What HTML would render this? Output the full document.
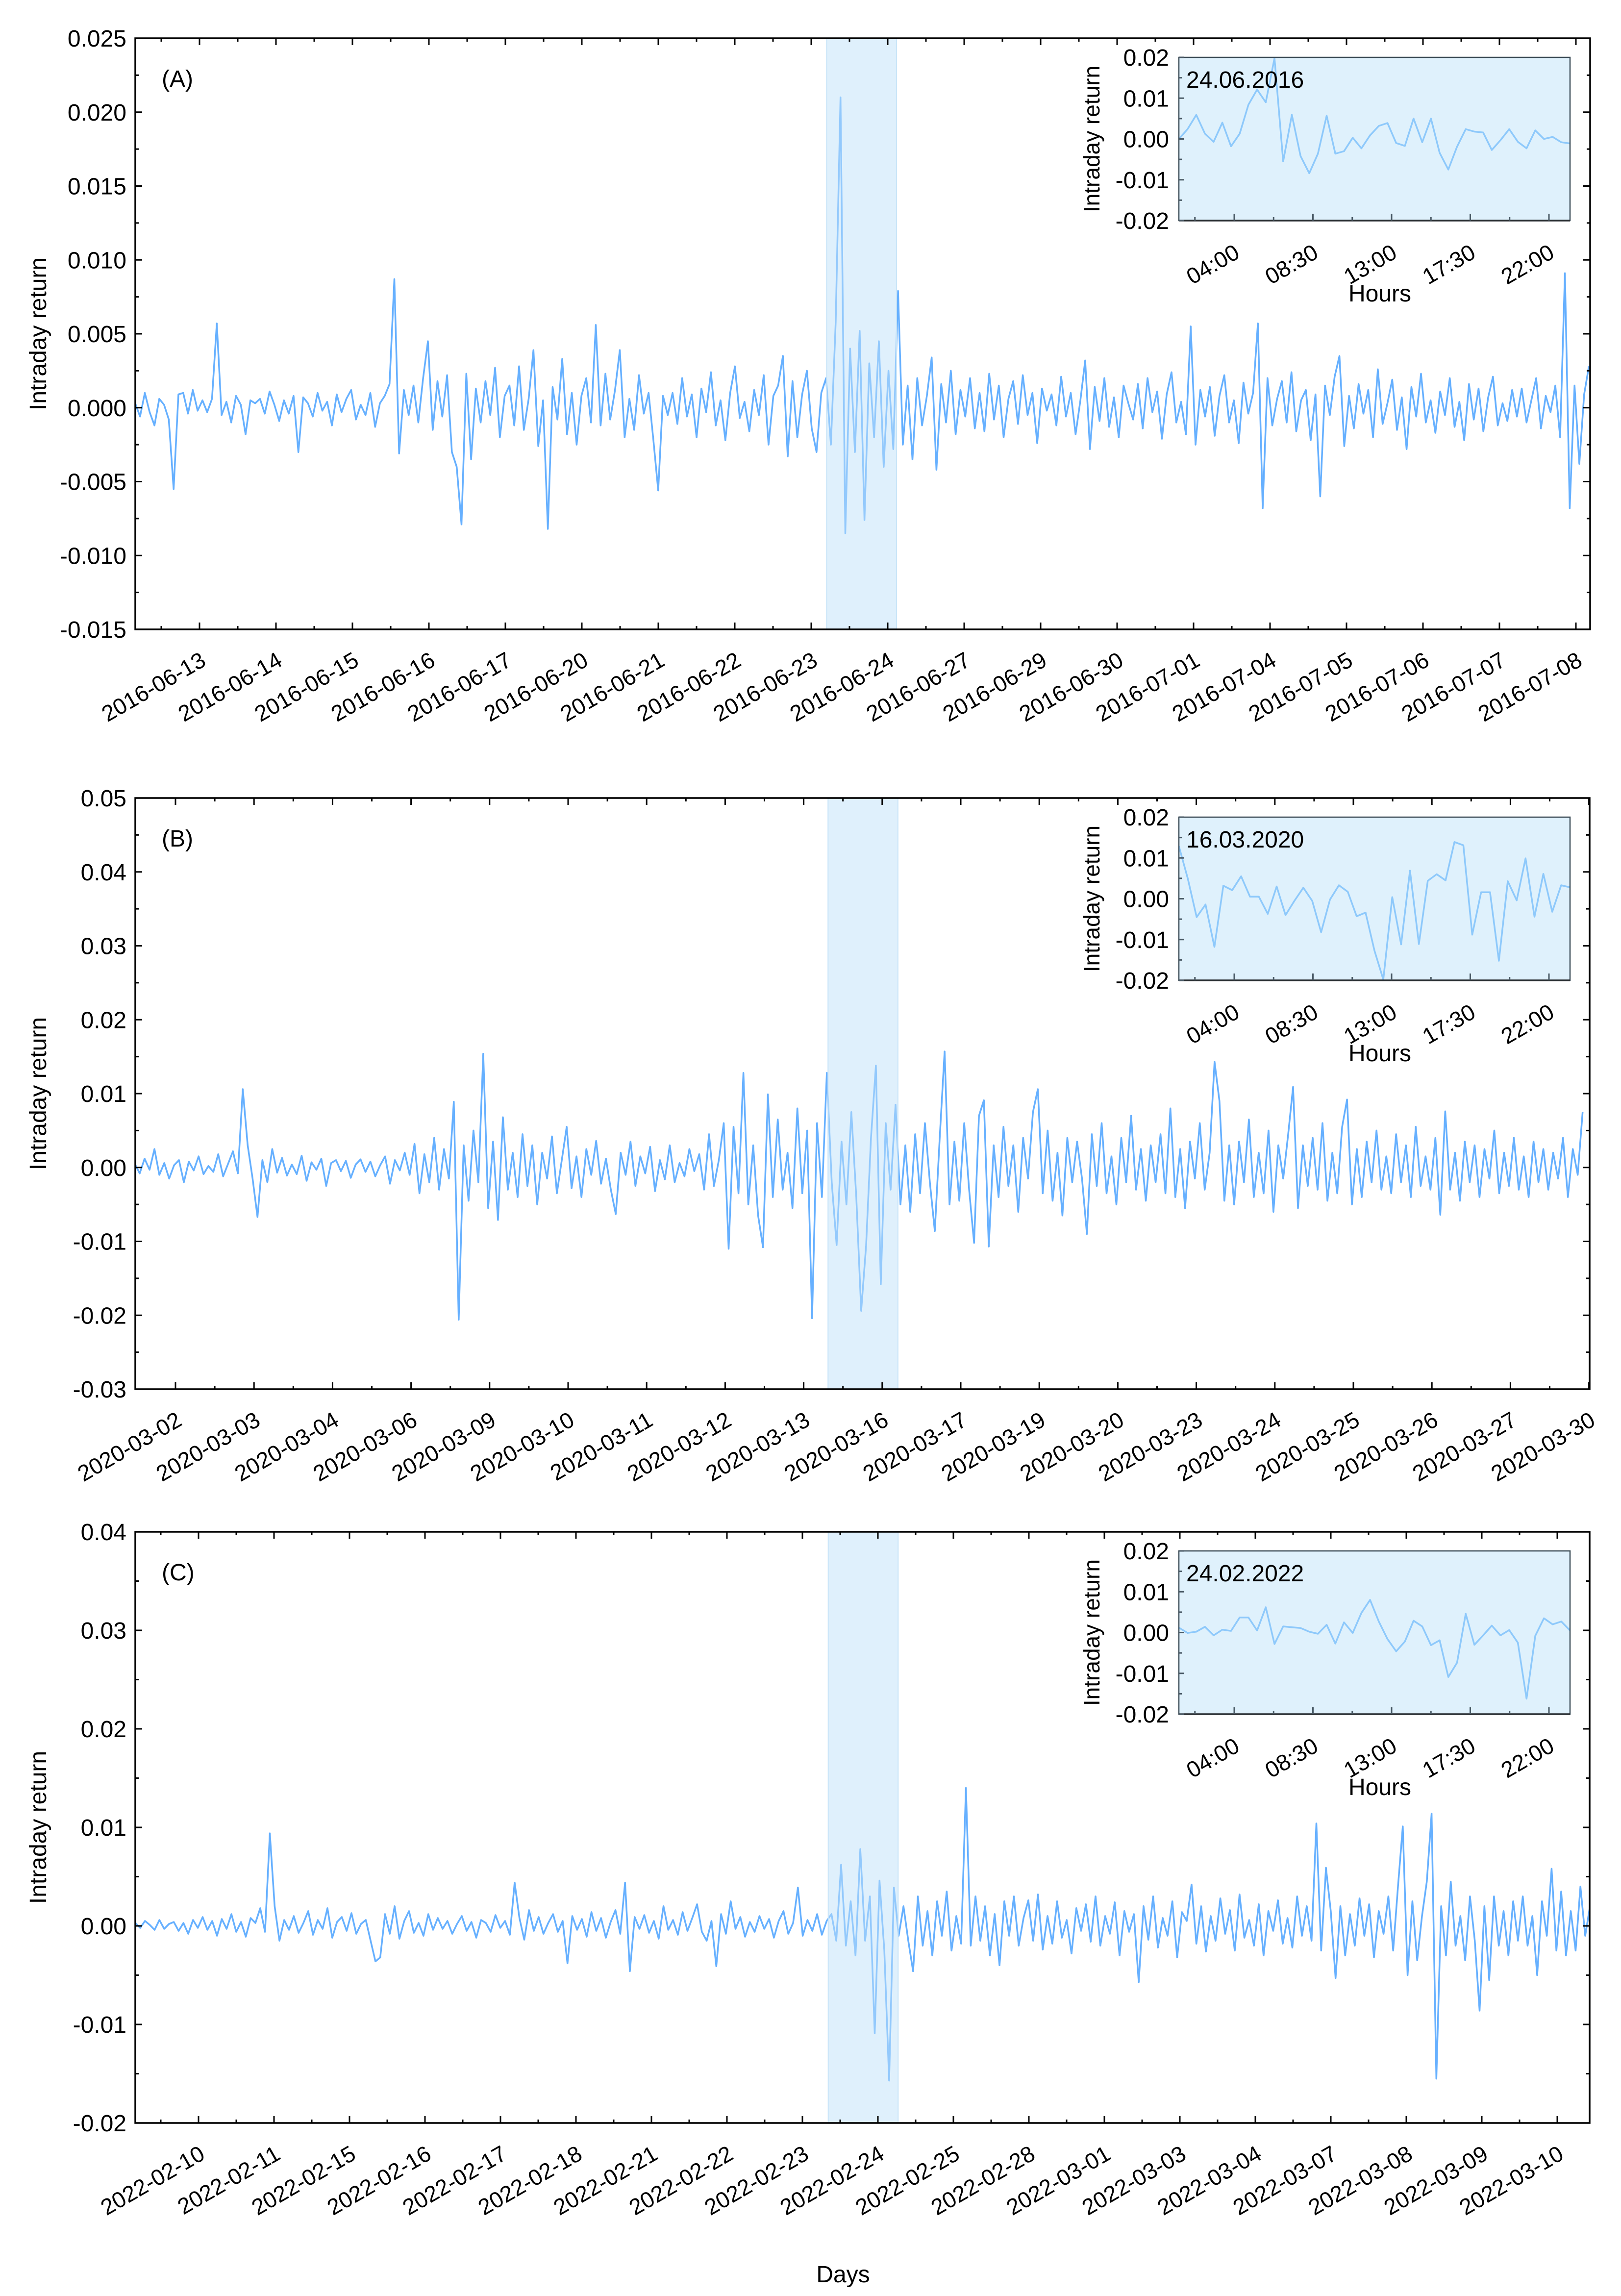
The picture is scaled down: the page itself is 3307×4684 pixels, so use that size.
<!DOCTYPE html>
<html><head><meta charset="utf-8"><title>Intraday returns</title>
<style>
html,body{margin:0;padding:0;background:#fff;}
svg{display:block;font-family:"Liberation Sans",Arial,sans-serif;}
</style></head>
<body>
<svg id="fig" xmlns="http://www.w3.org/2000/svg" width="3307" height="4684" viewBox="0 0 3307 4684">
<rect x="0" y="0" width="3307" height="4684" fill="#fff"/>
</svg>
<script>
// ---------- DATA (returns in units of 1e-3, 16 points per trading day) ----------
const pointsPerDay = 16;
const startDayA = -0.837;
const startDayB = -0.518;
const startDayC = -0.86;

const datesA = ["2016-06-13","2016-06-14","2016-06-15","2016-06-16","2016-06-17","2016-06-20","2016-06-21","2016-06-22","2016-06-23","2016-06-24","2016-06-27","2016-06-29","2016-06-30","2016-07-01","2016-07-04","2016-07-05","2016-07-06","2016-07-07","2016-07-08"];
const datesB = ["2020-03-02","2020-03-03","2020-03-04","2020-03-06","2020-03-09","2020-03-10","2020-03-11","2020-03-12","2020-03-13","2020-03-16","2020-03-17","2020-03-19","2020-03-20","2020-03-23","2020-03-24","2020-03-25","2020-03-26","2020-03-27","2020-03-30"];
const datesC = ["2022-02-10","2022-02-11","2022-02-15","2022-02-16","2022-02-17","2022-02-18","2022-02-21","2022-02-22","2022-02-23","2022-02-24","2022-02-25","2022-02-28","2022-03-01","2022-03-03","2022-03-04","2022-03-07","2022-03-08","2022-03-09","2022-03-10"];

const yTicksA = [0.025,0.020,0.015,0.010,0.005,0.000,-0.005,-0.010,-0.015];
const yTicksB = [0.05,0.04,0.03,0.02,0.01,0.00,-0.01,-0.02,-0.03];
const yTicksC = [0.04,0.03,0.02,0.01,0.00,-0.01,-0.02];

const returnsA = [
0.3,-0.6,1.0,-0.3,-1.2,0.6,0.2,-0.8,-5.5,0.9,1.0,-0.4,1.2,-0.2,0.5,-0.3,
0.6,5.7,-0.5,0.4,-1.0,0.8,0.2,-1.8,0.5,0.3,0.6,-0.4,1.1,0.2,-0.9,0.5,
-0.4,0.8,-3.0,0.7,0.3,-0.6,1.0,-0.2,0.4,-1.2,0.9,-0.3,0.6,1.2,-0.8,0.2,
-0.5,1.0,-1.3,0.3,0.8,1.6,8.7,-3.1,1.2,-0.5,1.5,-1.0,2.0,4.5,-1.5,1.8,
-0.6,2.2,-3.0,-4.0,-7.9,2.3,-3.5,1.3,-1.0,1.8,-0.5,2.7,-2.0,0.8,1.5,-1.2,
2.8,-1.5,0.6,3.9,-2.6,0.5,-8.2,1.4,-0.8,3.3,-1.8,1.0,-2.5,0.8,2.0,-1.0,
5.6,-1.2,2.3,-0.8,1.2,3.9,-2.0,0.6,-1.5,2.2,-0.4,1.0,-2.2,-5.6,0.8,-0.5,
1.0,-1.1,2.0,-0.6,0.9,-2.0,1.3,-0.3,2.4,-1.2,0.5,-2.2,1.0,2.8,-0.7,0.4,
-1.6,1.2,-0.5,2.2,-2.5,0.8,1.5,3.5,-3.3,1.8,-2.0,0.9,2.5,-1.4,-3.0,1.0,
2.0,-2.5,5.8,21.0,-8.5,4.0,-3.0,5.2,-7.6,3.0,-2.0,4.5,-4.0,2.5,-2.8,7.9,
-2.5,1.5,-3.5,2.0,-1.2,0.8,3.4,-4.2,1.6,-1.0,2.5,-1.8,1.2,-0.6,2.0,-1.4,
1.0,-1.6,2.3,-0.8,1.5,-2.0,0.6,1.8,-1.1,2.2,-0.5,1.0,-2.4,1.3,-0.2,0.9,
-1.2,2.1,-0.6,1.0,-1.8,0.5,3.2,-2.8,1.4,-0.9,2.0,-1.3,0.7,-2.0,1.5,0.3,
-0.8,1.6,-1.4,2.0,-0.3,1.1,-2.1,0.9,2.4,-1.0,0.4,-1.8,5.5,-2.5,1.2,-0.6,
1.4,-1.9,0.8,2.2,-1.0,0.5,-2.4,1.7,-0.4,1.0,5.7,-6.8,2.0,-1.2,0.6,1.8,
-1.0,2.4,-1.6,0.5,1.2,-2.2,0.9,-6.0,1.5,-0.5,2.1,3.5,-2.6,0.8,-1.4,1.6,
-0.4,1.2,-2.0,2.6,-1.1,0.3,1.9,-1.5,0.7,-2.8,1.4,-0.6,2.3,-1.0,0.5,-1.7,
1.1,-0.5,2.0,-1.3,0.4,-2.2,1.6,-0.8,1.3,-1.6,0.7,2.1,-1.2,0.3,-0.9,1.2,
-0.6,1.3,-1.0,0.5,2.0,-1.4,0.8,-0.3,1.5,-2.0,9.1,-6.8,1.5,-3.8,0.9,2.8];

const returnsB = [
0.5,-0.8,1.2,-0.3,2.5,-1.0,0.6,-1.5,0.3,1.0,-2.0,0.8,-0.4,1.5,-0.9,0.2,
-0.6,1.8,-1.2,0.5,2.2,-0.8,10.6,3.0,-1.5,-6.7,1.0,-2.0,2.5,-0.7,1.3,-1.1,
0.4,-0.9,1.6,-1.8,0.7,-0.3,1.2,-2.5,0.6,1.0,-0.5,0.9,-1.4,0.4,1.1,-0.6,
0.8,-1.2,0.3,1.5,-2.2,1.0,-0.4,2.0,-1.0,3.2,-3.5,1.8,-2.0,4.0,-3.0,2.5,
-1.5,8.9,-20.6,3.0,-4.5,5.0,-2.0,15.4,-5.5,3.5,-7.1,6.8,-3.0,2.0,-4.0,4.5,
-2.5,3.0,-5.0,2.0,-1.5,4.2,-3.5,1.0,5.5,-2.8,1.5,-4.0,2.5,-1.0,3.6,-2.2,
1.2,-3.0,-6.3,2.0,-1.0,3.5,-2.5,1.5,-0.8,2.8,-3.2,1.0,-1.6,3.0,-2.0,0.6,
-1.2,2.5,-0.5,1.8,-3.0,4.5,-2.5,1.0,6.0,-11.0,5.5,-3.5,12.8,-5.0,3.0,-6.5,
-10.8,9.9,-4.0,6.5,-3.0,2.0,-5.5,8.0,-3.5,5.0,-20.4,6.0,-4.0,12.8,-2.0,-10.5,
3.5,-5.0,7.5,-4.0,-19.4,-10.6,4.0,13.8,-15.8,6.0,-3.0,8.5,-5.0,3.0,-6.0,4.5,
-3.5,6.0,-2.0,-8.6,4.0,15.7,-5.0,3.5,-4.5,6.0,-3.0,-10.2,7.0,9.1,-10.7,3.0,
-4.0,5.5,-2.5,3.0,-6.0,4.0,-1.5,7.5,10.6,-3.5,5.0,-4.5,2.0,-6.5,4.0,-2.0,
3.5,-1.5,-9.0,4.5,-2.5,6.0,-3.5,1.5,-5.0,4.0,-2.0,7.0,-3.0,2.5,-4.5,3.0,
-2.0,4.5,-3.5,8.0,-4.0,2.5,-5.5,3.5,-1.5,6.0,-3.0,2.0,14.3,9.0,-4.5,3.0,
-5.0,3.5,-2.0,6.5,-4.0,2.0,-3.5,5.0,-6.0,3.0,-1.5,4.5,10.9,-5.5,3.0,-2.5,
4.0,-3.0,6.0,-4.5,2.0,-3.5,5.5,9.2,-5.0,2.5,-4.0,3.5,-2.0,5.0,-3.0,1.5,
-3.5,4.5,-2.0,3.0,-4.0,5.5,-2.5,1.5,-3.0,4.0,-6.4,7.6,-3.0,2.0,-4.5,3.5,
-2.0,3.0,-4.0,2.5,-1.5,5.0,-3.5,2.0,-2.5,4.0,-3.0,1.5,-4.0,3.5,-2.0,2.5,
-3.0,2.0,-1.5,4.0,-4.0,2.5,-1.0,7.5];

const returnsC = [
0.3,-0.2,0.5,0.1,-0.4,0.6,-0.3,0.2,0.4,-0.5,0.3,-0.8,0.6,-0.2,0.9,-0.4,
0.5,-1.0,0.7,-0.3,1.2,-0.6,0.4,-1.1,0.8,0.3,1.8,-0.6,9.4,2.0,-1.5,0.6,
-0.4,1.0,-0.7,0.3,1.5,-0.9,0.6,-0.3,1.8,-1.2,0.4,0.9,-0.5,1.3,-0.8,0.2,
0.6,-1.5,-3.6,-3.2,1.2,-0.8,2.0,-1.3,0.5,1.5,-0.7,0.3,-1.0,1.2,-0.4,0.8,
-0.3,0.5,-0.8,0.2,1.0,-0.5,0.4,-1.2,0.6,0.3,-0.6,1.1,-0.2,0.5,-0.9,4.4,
0.8,-1.4,1.6,-0.5,0.9,-0.8,0.3,1.2,-0.6,0.5,-3.8,1.0,-0.4,0.7,-1.1,1.4,
-0.5,0.8,-1.2,0.4,1.6,-0.8,4.4,-4.6,0.9,-0.3,1.1,-0.7,0.5,-1.3,2.0,-0.4,
0.6,-0.9,1.4,-0.5,0.8,2.2,-0.6,-1.5,0.5,-4.1,1.2,-0.8,2.5,-0.3,0.9,-1.1,
0.4,-0.6,1.0,-0.3,0.7,-1.2,0.5,1.5,-0.8,0.3,3.9,-1.0,0.6,-0.5,1.2,-0.9,
0.5,1.2,-1.5,6.2,-2.0,2.5,-3.0,7.8,-1.5,3.0,-10.9,4.6,-2.5,-15.7,3.9,-1.0,
2.0,-1.5,-4.6,3.0,-2.0,1.5,-3.0,2.5,-1.0,3.5,-2.5,1.0,-1.8,14.0,-2.0,3.0,
-1.5,2.0,-3.0,1.2,-4.0,2.5,-1.0,3.0,-2.0,0.8,2.6,-1.5,3.2,-2.4,1.0,-1.8,
2.5,-1.2,0.6,-2.8,1.8,-0.5,2.2,-1.6,3.0,-2.0,1.0,-0.8,2.4,-3.0,1.5,-0.6,
1.2,-5.7,2.0,-1.4,3.0,-2.2,0.8,-1.0,2.5,-3.2,1.4,0.5,4.2,-1.8,2.0,-2.6,
1.0,-1.5,2.8,-0.8,1.6,-2.5,3.2,-1.2,0.6,-2.0,2.2,-3.0,1.5,-0.5,2.6,-1.8,
0.8,-2.2,3.0,-1.0,2.0,-1.5,10.4,-2.5,5.9,1.5,-5.3,2.0,-3.0,1.2,-2.0,2.8,
-1.0,2.2,-3.2,1.5,-0.8,3.0,-2.5,4.0,10.1,-5.0,2.5,-3.5,1.0,4.5,11.4,-15.5,
2.0,-3.0,4.5,-2.0,1.0,-3.5,3.0,-1.5,-8.6,2.0,-5.5,3.0,-2.0,1.5,-3.0,2.5,
-1.5,3.0,-2.0,1.0,-5.0,2.5,-1.0,5.8,-2.5,3.5,-3.0,1.5,-2.5,4.0,-1.0,2.0];

// highlighted event day (start/end in day units)
const eventA = [8.17, 9.08];
const eventB = [8.31, 9.2];
const eventC = [8.16, 9.07];

// insets: half-hourly returns on the event day (units of 1e-3)
const insetHourTicks = [4, 8.5, 13, 17.5, 22];
const insetHourLabels = ["04:00","08:30","13:00","17:30","22:00"];
const insetYTicks = [0.02,0.01,0.00,-0.01,-0.02];
const insetA = [0,2.4,5.9,1.3,-0.7,4.0,-1.8,1.3,8.4,12.1,9.0,19.8,-5.5,5.9,-4.2,-8.4,-3.6,5.7,-3.6,-3.0,0.3,-2.3,0.9,3.2,3.9,-1.0,-1.7,5.0,-0.8,5.0,-3.4,-7.5,-1.9,2.4,1.8,1.6,-2.7,-0.3,2.4,-0.7,-2.3,2.1,0,0.5,-0.8,-1.1];
const insetB = [12.9,5.0,-4.5,-1.4,-11.8,3.2,2.1,5.5,0.5,0.5,-3.7,3.0,-4.0,-0.5,2.7,-0.5,-8.2,-0.2,3.3,1.7,-4.3,-3.4,-12.7,-19.8,0.4,-11.2,6.9,-11.1,4.4,6.0,4.5,13.9,13.1,-8.8,1.6,1.6,-15.2,4.3,-0.4,9.9,-4.4,6.1,-3.2,3.3,2.8];
const insetC = [1.2,-0.1,0.2,1.4,-0.7,0.7,0.4,3.7,3.7,0.5,6.2,-2.8,1.5,1.3,1.1,0.2,-0.3,1.9,-2.7,2.5,-0.1,4.8,8.0,2.7,-1.6,-4.6,-2.2,2.9,1.5,-3.1,-1.9,-10.9,-7.4,4.6,-3.0,-0.7,1.7,-0.7,0.6,-2.5,-16.2,-0.8,3.5,2.0,2.7,0.5];

// ---------- LAYOUT ----------
const NS = "http://www.w3.org/2000/svg";
const svg = document.getElementById("fig");
function el(tag, attrs, parent, text){
  const e = document.createElementNS(NS, tag);
  for (const k in attrs) e.setAttribute(k, attrs[k]);
  if (text !== undefined) e.textContent = text;
  (parent || svg).appendChild(e);
  return e;
}
const LINE = "#66b0ff";

const panels = [
 {key:"a", label:"(A)", dates:datesA, yTicks:yTicksA, dec:3, vals:returnsA, start:startDayA, ev:eventA, inset:insetA, date:"24.06.2016",
  left:276, right:3244, top:78, bottom:1284, tick0:407, sp:156.0, dx0:407, dsp:156.6, ymin:-0.015, ymax:0.025},
 {key:"b", label:"(B)", dates:datesB, yTicks:yTicksB, dec:2, vals:returnsB, start:startDayB, ev:eventB, inset:insetB, date:"16.03.2020",
  left:276, right:3243, top:1628, bottom:2834, tick0:358, sp:160.2, dx0:358, dsp:160.2, ymin:-0.03, ymax:0.05},
 {key:"c", label:"(C)", dates:datesC, yTicks:yTicksC, dec:2, vals:returnsC, start:startDayC, ev:eventC, inset:insetC, date:"24.02.2022",
  left:276, right:3243, top:3125, bottom:4331, tick0:405, sp:154.0, dx0:411, dsp:156.7, ymin:-0.02, ymax:0.04}
];

panels.forEach(p => {
  const g = el("g", {});
  
  
  const xd = d => p.tick0 + p.sp * d;          // tick axis
  const xdata = d => p.dx0 + p.dsp * d;        // data time axis
  const yv = v => p.bottom - (v - p.ymin) / (p.ymax - p.ymin) * (p.bottom - p.top);

  const clipId = "clip" + p.key;
  const cp = el("clipPath", {id: clipId}, g);
  el("rect", {x:p.left, y:p.top, width:p.right-p.left, height:p.bottom-p.top}, cp);
  let d = "";
  p.vals.forEach((v, i) => {
    const x = xdata(p.start + i / pointsPerDay), y = yv(v / 1000);
    d += (i ? "L" : "M") + x.toFixed(1) + " " + y.toFixed(1);
  });
  const line = el("path", {d:d, fill:"none", stroke:LINE, "stroke-width":3.5, "stroke-linejoin":"round", "clip-path":"url(#"+clipId+")"}, g);
  
  

  const band = el("rect", {x:xdata(p.ev[0]), y:p.top, width:xdata(p.ev[1]) - xdata(p.ev[0]), height:p.bottom-p.top, fill:"#bfe2f9", "fill-opacity":0.5, stroke:"#c8e4f8", "stroke-width":2}, g);
  
  

  const fr = el("rect", {x:p.left, y:p.top, width:p.right-p.left, height:p.bottom-p.top, fill:"none", stroke:"#000", "stroke-width":3.5}, g);
  
  

  p.dates.forEach((lab, k) => {
    const x = xd(k);
    el("line", {x1:x, x2:x, y1:p.bottom, y2:p.bottom-14, stroke:"#000", "stroke-width":3}, g);
    el("line", {x1:x, x2:x, y1:p.top, y2:p.top+14, stroke:"#000", "stroke-width":3}, g);
    [-0.5, 0.5].forEach(h => {
      const xm = xd(k + h);
      if (xm > p.left + 3 && xm < p.right - 3 && (h < 0 || k === p.dates.length - 1)) {
        el("line", {x1:xm, x2:xm, y1:p.bottom, y2:p.bottom-7, stroke:"#000", "stroke-width":3}, g);
        el("line", {x1:xm, x2:xm, y1:p.top, y2:p.top+7, stroke:"#000", "stroke-width":3}, g);
      }
    });
    const tx = x + 16, ty = p.bottom + 72;
    const t = el("text", {x:tx, y:ty, "font-size":46, "text-anchor":"end", transform:"rotate(-30 "+tx+" "+ty+")", fill:"#000"}, g, lab);
    
    
  });

  const step = p.yTicks[0] - p.yTicks[1];
  p.yTicks.forEach(v => {
    const y = yv(v);
    el("line", {x1:p.left, x2:p.left+14, y1:y, y2:y, stroke:"#000", "stroke-width":3}, g);
    el("line", {x1:p.right, x2:p.right-14, y1:y, y2:y, stroke:"#000", "stroke-width":3}, g);
    const ym = yv(v - step / 2);
    if (ym < p.bottom - 2) {
      el("line", {x1:p.left, x2:p.left+7, y1:ym, y2:ym, stroke:"#000", "stroke-width":3}, g);
      el("line", {x1:p.right, x2:p.right-7, y1:ym, y2:ym, stroke:"#000", "stroke-width":3}, g);
    }
    const t = el("text", {x:p.left-18, y:y+17, "font-size":48, "text-anchor":"end", fill:"#000"}, g, v.toFixed(p.dec));
    
    
  });

  const yc = (p.top + p.bottom) / 2;
  const yt = el("text", {x:94, y:yc, "font-size":48, "text-anchor":"middle", transform:"rotate(-90 94 "+yc+")", fill:"#000"}, g, "Intraday return");
  
  

  const pl = el("text", {x:330, y:p.top+99, "font-size":48, fill:"#000"}, g, p.label);
  
  

  // ---------- inset ----------
  const ig = el("g", {}, g);
  
  
  const il = 2405, ir = 3203, it = p.top + 39, ib = p.top + 372;
  const ixh = h => 2518 + (h - 4) * (3160 - 2518) / 18;
  const iy = v => ib - (v + 0.02) / 0.04 * (ib - it);
  el("rect", {x:il, y:it, width:ir-il, height:ib-it, fill:"#dff1fc"}, ig);
  const vals = p.inset;
  let id = "";
  vals.forEach((v, i) => {
    const x = il + i / (vals.length - 1) * (ir - il), y = iy(v / 1000);
    id += (i ? "L" : "M") + x.toFixed(1) + " " + y.toFixed(1);
  });
  const icp = el("clipPath", {id:"iclip"+p.key}, ig);
  el("rect", {x:il, y:it-4, width:ir-il, height:ib-it+4}, icp);
  const iline = el("path", {d:id, fill:"none", stroke:"#8ec9fb", "stroke-width":3.5, "stroke-linejoin":"round", "clip-path":"url(#iclip"+p.key+")"}, ig);
  
  
  el("rect", {x:il, y:it, width:ir-il, height:ib-it, fill:"none", stroke:"#3a4a55", "stroke-width":2.5}, ig);
  el("line", {x1:il, x2:ir, y1:ib, y2:ib, stroke:"#2a2f33", "stroke-width":3.5}, ig);
  insetHourTicks.forEach((h, k) => {
    const x = ixh(h);
    el("line", {x1:x, x2:x, y1:ib, y2:ib-14, stroke:"#4a5a66", "stroke-width":3}, ig);
    const xm = ixh(h - 2.25);
    if (xm > il + 3) el("line", {x1:xm, x2:xm, y1:ib, y2:ib-7, stroke:"#4a5a66", "stroke-width":3}, ig);
    const tx = x + 14, ty = ib + 74;
    const t = el("text", {x:tx, y:ty, "font-size":46, "text-anchor":"end", transform:"rotate(-30 "+tx+" "+ty+")", fill:"#000"}, ig, insetHourLabels[k]);
    
    
  });
  const xm2 = ixh(22 + 2.25); if (xm2 < ir - 3) el("line", {x1:xm2, x2:xm2, y1:ib, y2:ib-7, stroke:"#4a5a66", "stroke-width":3}, ig);
  insetYTicks.forEach(v => {
    const y = iy(v);
    el("line", {x1:il, x2:il+10, y1:y, y2:y, stroke:"#4a5a66", "stroke-width":3}, ig);
    if (v > -0.02) { const ym = iy(v - 0.005); el("line", {x1:il, x2:il+6, y1:ym, y2:ym, stroke:"#4a5a66", "stroke-width":3}, ig); }
    const t = el("text", {x:il-20, y:y+17, "font-size":48, "text-anchor":"end", fill:"#000"}, ig, v.toFixed(2));
    
    
  });
  const iyc = (it + ib) / 2;
  const iyt = el("text", {x:2243, y:iyc, "font-size":46, "text-anchor":"middle", transform:"rotate(-90 2243 "+iyc+")", fill:"#000"}, ig, "Intraday return");
  
  
  const dt = el("text", {x:2420, y:it+62, "font-size":48, fill:"#000"}, ig, p.date);
  
  
  const hx = el("text", {x:2815, y:ib+165, "font-size":48, "text-anchor":"middle", fill:"#000"}, ig, "Hours");
  
  
});

const days = el("text", {x:1720, y:4656, "font-size":48, "text-anchor":"middle", fill:"#000"}, svg, "Days");


</script>
</body></html>
